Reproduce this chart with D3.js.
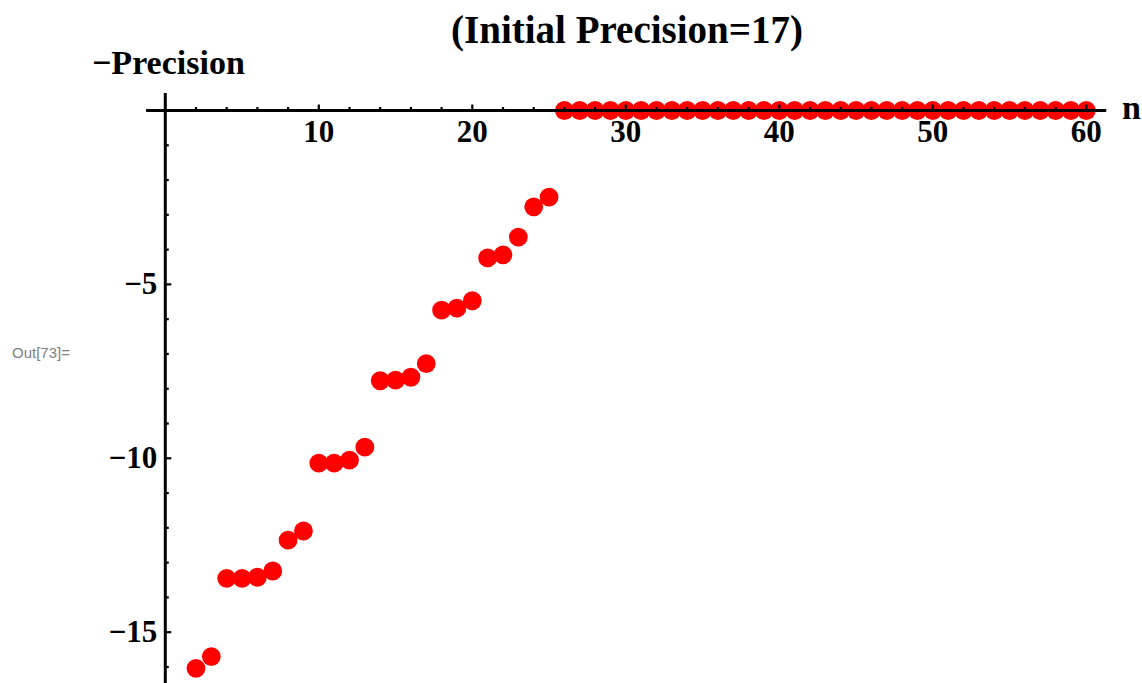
<meta charset="utf-8">
<head>
  <title>Initial Precision=17</title>
</head>
<style>
body { margin: 0; background: #fff; }
text { font-family: "Liberation Serif", "DejaVu Serif", serif; font-weight: bold; }
.out { font-family: "Liberation Sans", Arial, sans-serif; font-weight: normal; fill: #808080; }
</style>
<body>
<svg width="1142" height="683"></svg>
<script src="https://cdnjs.cloudflare.com/ajax/libs/d3/7.8.5/d3.min.js"></script>
<script>

// n = 2..60, value = -Precision
var nValues = d3.range(2, 61);
var precision = [
  -16.04, -15.70, -13.45, -13.45, -13.42, -13.24, -12.35, -12.09,
  -10.14, -10.14, -10.05, -9.68, -7.77, -7.75, -7.67, -7.28,
  -5.74, -5.68, -5.47, -4.24, -4.15, -3.64, -2.77, -2.49,
  0, 0, 0, 0, 0, 0, 0, 0, 0, 0, 0, 0, 0, 0, 0, 0, 0, 0, 0, 0, 0, 0, 0, 0, 0, 0, 0, 0, 0, 0, 0, 0, 0, 0, 0
];
var xMajor = [10, 20, 30, 40, 50, 60];
var yMajor = [-5, -10, -15];

var svg = d3.select("svg");

var x = d3.scaleLinear().domain([0, 60]).range([165.3, 1086.3]);
var y = d3.scaleLinear().domain([0, -15]).range([110.5, 632.2]);

var data = nValues.map(function(n, i) { return { n: n, v: precision[i] }; });

// points first, axes are drawn over them
svg.append("g")
  .selectAll("circle")
  .data(data)
  .enter()
  .append("circle")
  .attr("cx", function(d) { return x(d.n); })
  .attr("cy", function(d) { return y(d.v); })
  .attr("r", 9.4)
  .style("fill", "#ff0000");

// x axis
var xAxis = svg.append("g");
xAxis.append("line")
  .attr("x1", x(-1.25)).attr("x2", x(61.3))
  .attr("y1", y(0)).attr("y2", y(0))
  .attr("stroke", "#000").attr("stroke-width", 3);

xAxis.selectAll(".minor")
  .data(d3.range(2, 61, 2))
  .enter().append("line")
  .attr("x1", function(d) { return x(d); })
  .attr("x2", function(d) { return x(d); })
  .attr("y1", y(0))
  .attr("y2", function(d) { return y(0) - (d % 10 == 0 ? 6 : 3.5); })
  .attr("stroke", "#000").attr("stroke-width", 2.2);

xAxis.selectAll(".lab")
  .data(xMajor)
  .enter().append("text")
  .attr("x", function(d) { return x(d); })
  .attr("y", y(0) + 31)
  .attr("text-anchor", "middle")
  .style("font-size", "31px")
  .text(function(d) { return d; });

// y axis
var yAxis = svg.append("g");
yAxis.append("line")
  .attr("x1", x(0)).attr("x2", x(0))
  .attr("y1", 93).attr("y2", 683)
  .attr("stroke", "#000").attr("stroke-width", 3);

yAxis.selectAll(".minor")
  .data(d3.range(-1, -17, -1))
  .enter().append("line")
  .attr("x1", x(0))
  .attr("x2", function(d) { return x(0) + (d % 5 == 0 ? 6 : 3.5); })
  .attr("y1", function(d) { return y(d); })
  .attr("y2", function(d) { return y(d); })
  .attr("stroke", "#000").attr("stroke-width", 2.2);

yAxis.selectAll(".lab")
  .data(yMajor)
  .enter().append("text")
  .attr("x", x(0) - 8)
  .attr("y", function(d) { return y(d) + 10; })
  .attr("text-anchor", "end")
  .style("font-size", "31px")
  .text(function(d) { return "\u2212" + Math.abs(d); });

// labels
svg.append("text")
  .attr("x", 627).attr("y", 43)
  .attr("text-anchor", "middle")
  .style("font-size", "39px")
  .text("(Initial Precision=17)");

svg.append("text")
  .attr("x", 92).attr("y", 74)
  .style("font-size", "34px")
  .text("\u2212Precision");

svg.append("text")
  .attr("x", 1122).attr("y", 119)
  .style("font-size", "34px")
  .text("n");

svg.append("text")
  .attr("class", "out")
  .attr("x", 12).attr("y", 358)
  .style("font-size", "15px")
  .text("Out[73]=");

</script>
</body>
